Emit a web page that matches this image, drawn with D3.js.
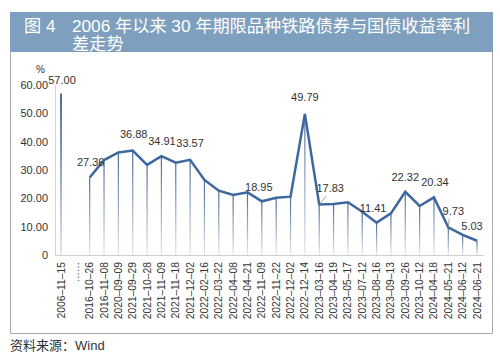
<!DOCTYPE html>
<html><head><meta charset="utf-8">
<script src="https://cdn.jsdelivr.net/npm/d3@7/dist/d3.min.js"></script>
<style>
html,body{margin:0;padding:0;background:#fff;}
svg{display:block;}
text{font-family:"Liberation Sans","Noto Sans CJK SC",sans-serif;}
</style></head><body>
<svg id="c" width="500" height="360"></svg>
<script>
const categories = ["2006–11–15","……","2016–10–26","2016–11–08","2020–09–09","2021–09–29","2021–10–28","2021–11–09","2021–11–18","2021–12–02","2022–02–16","2022–03–22","2022–04–08","2022–04–21","2022–11–09","2022–11–22","2022–12–02","2022–12–14","2023–03–16","2023–04–19","2023–05–17","2023–07–12","2023–08–16","2023–09–13","2023–09–26","2023–10–12","2024–04–18","2024–05–21","2024–06–12","2024–06–21"];
const values = [57.00,null,27.36,33.5,36.2,36.88,31.8,34.91,32.6,33.57,26.5,22.7,21.2,22.1,18.95,20.2,20.6,49.79,17.83,18.0,18.6,15.3,11.41,14.7,22.32,17.3,20.34,9.73,7.1,5.03];
const labelIdx = [0,2,5,7,9,14,17,18,22,24,26,27,29];
const yTicks = [0,10,20,30,40,50,60];
const titleLines = ["2006 年以来 30 年期限品种铁路债券与国债收益率利","差走势"];
const figNo = "图 4";
const source = "资料来源：Wind";
const unit = "%";

// label layout (style only): [dx, dy baseline offset, leader]
const labelPos = {0:[1,-10],2:[1,-11],5:[1,-12.5],7:[0.5,-11],9:[0,-12.5],14:[-3,-10],17:[0,-13],18:[11,-12.5,true],22:[-3.5,-11],24:[0,-11],26:[1,-11.7],27:[5,-12.7,true],29:[-5,-10.7]};

const svg = d3.select("#c");
// title bar
svg.append("rect").attr("x",10).attr("y",12).attr("width",483).attr("height",40).attr("fill","#7ea0be");
svg.append("text").attr("x",24).attr("y",31.5).attr("fill","#fff").attr("font-size",17.2).text(figNo);
titleLines.forEach((t,i)=>svg.append("text").attr("x",72).attr("y",31.5+18*i).attr("fill","#fff").attr("font-size",17.2).text(t));
// box
svg.append("path").attr("d","M10.5,52 V333.5 H492.5 V52").attr("fill","none").attr("stroke","#a8a8a8").attr("stroke-width",1);
svg.append("text").attr("x",10).attr("y",350).attr("fill","#333").attr("font-size",13).text(source);

const x = d3.scalePoint().domain(categories).range([61,477]);
const y = d3.scaleLinear().domain([0,60]).range([255,85]);

// axes lines
svg.append("line").attr("x1",55.5).attr("x2",55.5).attr("y1",85).attr("y2",255).attr("stroke","#d5d5d5");
svg.append("line").attr("x1",55).attr("x2",484).attr("y1",255.5).attr("y2",255.5).attr("stroke","#cfcfcf");

// y labels
svg.append("g").selectAll("text").data(yTicks).join("text")
  .attr("x",48).attr("y",d=>y(d)+4).attr("text-anchor","end").attr("font-size",11).attr("fill","#333")
  .text(d=>d===0?"0":d.toFixed(2));
svg.append("text").attr("x",36).attr("y",73).attr("font-size",10).attr("fill","#333").text(unit);

// gradient
const defs = svg.append("defs");
const g = defs.append("linearGradient").attr("id","dg").attr("x1",0).attr("y1",0).attr("x2",0).attr("y2",1);
g.append("stop").attr("offset","0%").attr("stop-color","#4c6b98");
g.append("stop").attr("offset","100%").attr("stop-color","#e2e7ee");

// drop lines
const pts = categories.map((c,i)=>({c,i,v:values[i]})).filter(d=>d.v!=null);
svg.append("g").selectAll("rect").data(pts).join("rect")
  .attr("x",d=>x(d.c)-(d.i===0?1:0.6)).attr("width",d=>d.i===0?2:1.2)
  .attr("y",d=>y(d.v)).attr("height",d=>y(0)-y(d.v)).attr("fill","url(#dg)");

// line (skip first point before gap)
const lineData = pts.filter(d=>d.i>=2);
svg.append("path").datum(lineData)
  .attr("d",d3.line().x(d=>x(d.c)).y(d=>y(d.v)))
  .attr("fill","none").attr("stroke","#3e67a0").attr("stroke-width",2.5).attr("stroke-linejoin","miter");

// data labels
labelIdx.forEach(i=>{
  const p = labelPos[i]||[0,-10];
  const px = x(categories[i]), py = y(values[i]);
  if(p[2]){
    svg.append("line").attr("x1",px).attr("y1",py).attr("x2",px+p[0]-4).attr("y2",py+p[1]+4).attr("stroke","#888").attr("stroke-width",0.8);
  }
  svg.append("text").attr("x",px+p[0]).attr("y",py+p[1]).attr("text-anchor","middle")
    .attr("font-size",11).attr("fill","#333").text(values[i].toFixed(2));
});

// x labels
svg.append("g").selectAll("text").data(categories).join("text")
  .attr("transform",d=>`translate(${x(d)+3.5},262) rotate(-90)`)
  .attr("text-anchor","end").attr("font-size",10.3).attr("fill","#333").text(d=>d);
</script>
</body></html>
